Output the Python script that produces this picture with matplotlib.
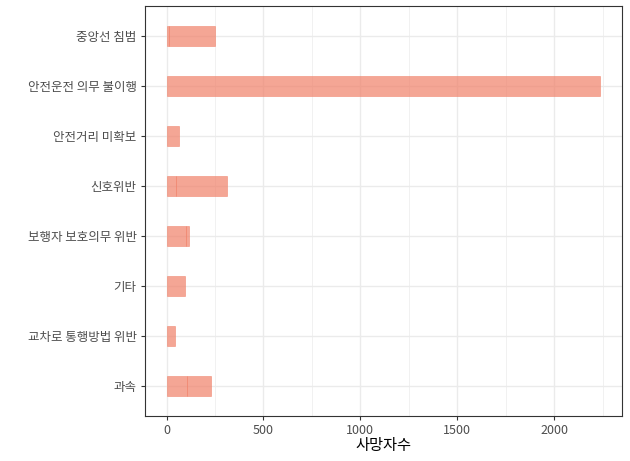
import numpy as np
import matplotlib
matplotlib.use('Agg')
import matplotlib.pyplot as plt

plt.rcParams['font.family'] = ['Noto Sans CJK KR', 'DejaVu Sans']

# categories, top to bottom
categories = ['중앙선 침범', '안전운전 의무 불이행', '안전거리 미확보', '신호위반',
              '보행자 보호의무 위반', '기타', '교차로 통행방법 위반', '과속']
# stacked segments per category (deaths)
seg1 = [12, 2237, 63, 48, 98, 96, 45, 105]
seg2 = [236, 0, 0, 265, 19, 0, 0, 122]
xticks = [0, 500, 1000, 1500, 2000]
xlabel = '사망자수'

grid_col = '#EBEBEB'
edge_col = '#333333'
bar_col = '#F08068'

fig = plt.figure(figsize=(6.3, 4.61), dpi=100)
ax = fig.add_axes([0.230, 0.0976, 0.757, 0.889])

n = len(categories)
ypos = np.arange(n)[::-1]
s1 = np.array(seg1, dtype=float)
s2 = np.array(seg2, dtype=float)

ax.barh(ypos, s1, height=0.4, color=bar_col, alpha=0.7,
        edgecolor=bar_col, linewidth=0.5, zorder=3)
mask = s2 > 0
ax.barh(ypos[mask], s2[mask], left=s1[mask], height=0.4, color=bar_col,
        alpha=0.7, edgecolor=bar_col, linewidth=0.5, zorder=3)

total = (s1 + s2).max()
pad = total * 0.05
ax.set_xlim(-pad, total + pad)
ax.set_ylim(-0.6, n - 1 + 0.6)

ax.set_yticks(ypos)
ax.set_yticklabels(categories)
ax.set_xticks(xticks)
ax.set_xticks([250, 750, 1250, 1750, 2250], minor=True)

ax.grid(True, which='major', color=grid_col, linewidth=1.0, zorder=0)
ax.grid(True, which='minor', axis='x', color=grid_col, linewidth=0.5, zorder=0)
ax.set_axisbelow(True)

for sp in ax.spines.values():
    sp.set_color(edge_col)
    sp.set_linewidth(0.8)

ax.tick_params(which='major', length=3, width=0.8, color=edge_col,
               labelsize=9, labelcolor='#4D4D4D', pad=3)
ax.tick_params(which='minor', length=0)
ax.set_xlabel(xlabel, fontsize=11, color='black', labelpad=0)

fig.savefig('out.png', dpi=100)
plt.close(fig)
